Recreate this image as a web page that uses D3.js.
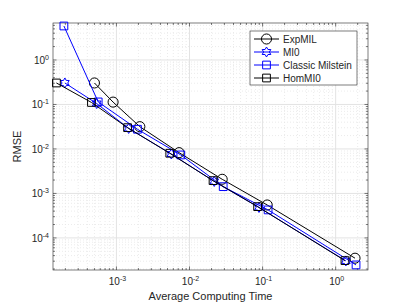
<!DOCTYPE html>
<html>
<head>
<meta charset="utf-8">
<script src="https://cdn.jsdelivr.net/npm/d3@7"></script>
<style>
  body { margin: 0; background: #fff; }
  svg { font-family: "Liberation Sans", Arial, sans-serif; }
</style>
</head>
<body>
<svg id="chart" width="407" height="305"></svg>
<script>
// data
const seriesNames = ["ExpMIL", "MI0", "Classic Milstein", "HomMI0"]
const expTime = [5.0e-4, 9.0e-4, 2.09e-3, 7.2e-3, 0.028, 0.1156, 1.84]
const expErr  = [0.304, 0.113, 0.0317, 8.26e-3, 2.08e-3, 5.5e-4, 3.5e-5]
const mi0Time = [1.97e-4, 5.37e-4, 1.47e-3, 5.64e-3, 0.0218, 0.0892, 1.38]
const mi0Err  = [0.304, 0.105, 0.0289, 7.7e-3, 1.86e-3, 4.84e-4, 3.04e-5]
const milTime = [1.91e-4, 5.63e-4, 1.94e-3, 7.6e-3, 0.0289, 0.119, 1.90]
const milErr  = [5.81, 0.114, 0.0277, 7.33e-3, 1.42e-3, 4.26e-4, 2.47e-5]
const homTime = [1.51e-4, 4.55e-4, 1.42e-3, 5.37e-3, 0.021, 0.0855, 1.34]
const homErr  = [0.304, 0.111, 0.0301, 8.0e-3, 1.94e-3, 5.05e-4, 3.09e-5]
const xTicks = [1e-3, 1e-2, 1e-1, 1e0]
const yTicks = [1e-4, 1e-3, 1e-2, 1e-1, 1e0]

const svg = d3.select('#chart')
const pL = 53, pR = 368, pT = 23, pB = 270

const x = d3.scaleLog().domain([1.355e-4, 2.77]).range([pL, pR])
const y = d3.scaleLog().domain([1.9e-5, 6.78]).range([pB, pT])

// minor values for grid and ticks
function minors(scale) {
  const d = scale.domain(), out = []
  for (let e = Math.floor(Math.log10(d[0])); e <= Math.ceil(Math.log10(d[1])); e++) {
    for (let m = 1; m < 10; m++) {
      const v = m * Math.pow(10, e)
      if (v >= d[0] && v <= d[1]) out.push({v: v, major: m == 1})
    }
  }
  return out
}
const xm = minors(x), ym = minors(y)

const grid = svg.append('g')
grid.selectAll('.gx').data(xm).enter().append('line')
  .attr('x1', d => x(d.v)).attr('x2', d => x(d.v))
  .attr('y1', pT).attr('y2', pB)
  .attr('stroke', d => d.major ? '#e3e3e3' : '#e6e6e6')
  .attr('stroke-dasharray', d => d.major ? null : '1,2')
  .attr('stroke-width', d => d.major ? 1 : 0.8)
grid.selectAll('.gy').data(ym).enter().append('line')
  .attr('y1', d => y(d.v)).attr('y2', d => y(d.v))
  .attr('x1', pL).attr('x2', pR)
  .attr('stroke', d => d.major ? '#e3e3e3' : '#e6e6e6')
  .attr('stroke-dasharray', d => d.major ? null : '1,2')
  .attr('stroke-width', d => d.major ? 1 : 0.8)

// frame + inward ticks
const axc = '#262626'
svg.append('rect').attr('x', pL).attr('y', pT)
  .attr('width', pR - pL).attr('height', pB - pT)
  .attr('fill', 'none').attr('stroke', axc).attr('stroke-width', 0.6)

const tk = svg.append('g').attr('stroke', axc).attr('stroke-width', 0.6)
xm.forEach(d => {
  const L = d.major ? 3.5 : 2
  tk.append('line').attr('x1', x(d.v)).attr('x2', x(d.v)).attr('y1', pB).attr('y2', pB - L)
  tk.append('line').attr('x1', x(d.v)).attr('x2', x(d.v)).attr('y1', pT).attr('y2', pT + L)
})
ym.forEach(d => {
  const L = d.major ? 3.5 : 2
  tk.append('line').attr('y1', y(d.v)).attr('y2', y(d.v)).attr('x1', pL).attr('x2', pL + L)
  tk.append('line').attr('y1', y(d.v)).attr('y2', y(d.v)).attr('x1', pR).attr('x2', pR - L)
})

// tick labels 10^n
function powLabel(g, v, px, py, anchor) {
  const t = g.append('text').attr('x', px).attr('y', py)
    .attr('text-anchor', anchor).attr('font-size', 10).attr('fill', axc)
  t.append('tspan').text('10')
  t.append('tspan').attr('dy', -4).attr('font-size', 7).text(Math.round(Math.log10(v)))
}
const lab = svg.append('g')
xTicks.forEach(v => powLabel(lab, v, x(v) + 1, pB + 15, 'middle'))
yTicks.forEach(v => powLabel(lab, v, pL - 4, y(v) + 4, 'end'))

svg.append('text').attr('x', (pL + pR) / 2).attr('y', 300)
  .attr('text-anchor', 'middle').attr('font-size', 11).attr('fill', axc)
  .text('Average Computing Time')
svg.append('text').attr('transform', `translate(21, ${(pT + pB) / 2}) rotate(-90)`)
  .attr('text-anchor', 'middle').attr('font-size', 11).attr('fill', axc)
  .text('RMSE')

// markers
const circle = d3.symbol().type(d3.symbolCircle).size(80)
const square = d3.symbol().type(d3.symbolSquare).size(60)
function hexagram(r) {
  const pts = []
  for (let i = 0; i < 12; i++) {
    const a = Math.PI / 2 + i * Math.PI / 6
    const rr = i % 2 == 0 ? r : r * 0.577
    pts.push([rr * Math.cos(a), -rr * Math.sin(a)])
  }
  return 'M' + pts.map(p => p.join(',')).join('L') + 'Z'
}

const series = [
  {name: seriesNames[0], t: expTime, e: expErr, color: '#000000', mark: circle()},
  {name: seriesNames[1], t: mi0Time, e: mi0Err, color: '#0000ff', mark: hexagram(5)},
  {name: seriesNames[2], t: milTime, e: milErr, color: '#0000ff', mark: square()},
  {name: seriesNames[3], t: homTime, e: homErr, color: '#000000', mark: square()}
]

const line = d3.line().x(d => x(d[0])).y(d => y(d[1]))
const plot = svg.append('g')
series.forEach(s => {
  const pts = s.t.map((t, i) => [t, s.e[i]])
  plot.append('path').datum(pts).attr('d', line)
    .attr('fill', 'none').attr('stroke', s.color).attr('stroke-width', 1)
  plot.selectAll(null).data(pts).enter().append('path')
    .attr('d', s.mark)
    .attr('transform', d => `translate(${x(d[0])},${y(d[1])})`)
    .attr('fill', 'none').attr('stroke', s.color).attr('stroke-width', 1)
})

// legend
const lg = svg.append('g')
const lx = 250, ly = 31, lw = 107, rowH = 13
lg.append('rect').attr('x', lx).attr('y', ly).attr('width', lw).attr('height', rowH * 4 + 2)
  .attr('fill', '#fff').attr('stroke', axc).attr('stroke-width', 0.6)
series.forEach((s, i) => {
  const cy = ly + 8 + i * rowH
  lg.append('line').attr('x1', lx + 4).attr('x2', lx + 29).attr('y1', cy).attr('y2', cy)
    .attr('stroke', s.color).attr('stroke-width', 1)
  lg.append('path').attr('d', s.mark).attr('transform', `translate(${lx + 16.5},${cy})`)
    .attr('fill', 'none').attr('stroke', s.color).attr('stroke-width', 1)
  lg.append('text').attr('x', lx + 33).attr('y', cy + 3.5).attr('font-size', 10)
    .attr('fill', axc).text(s.name)
})
</script>
</body>
</html>
